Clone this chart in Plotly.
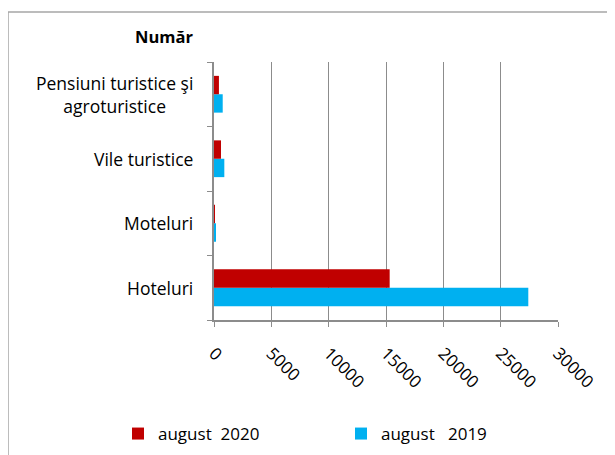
import plotly.graph_objects as go

categories = ["Hoteluri", "Moteluri", "Vile turistice", "Pensiuni turistice şi<br>agroturistice"]
values_2020 = [15320, 5, 610, 430]
values_2019 = [27410, 100, 900, 760]
series_names = ["august\u00a0\u00a02020", "august\u00a0\u00a0\u00a02019"]
x_ticks = [0, 5000, 10000, 15000, 20000, 25000, 30000]

FONT = "Open Sans"
O = 8  # page offset of the figure (body margin)
W, H = 615 - O, 455 - O
# plot area in page pixels
PX0, PX1, PY0, PY1 = 214, 558, 62, 320
L, R, T, B = PX0 - O, W - (PX1 - O), PY0 - O, H - (PY1 - O)
pw, ph = PX1 - PX0, PY1 - PY0


def px(xp):
    return (xp - PX0) / pw


def py(yp):
    return (PY1 - yp) / ph


fig = go.Figure()
fig.add_trace(go.Bar(y=categories, x=values_2019, orientation="h", name=series_names[1],
                     marker=dict(color="#00B0F0", line=dict(width=0))))
fig.add_trace(go.Bar(y=categories, x=values_2020, orientation="h", name=series_names[0],
                     marker=dict(color="#C00000", line=dict(width=0))))

for c in categories:
    fig.add_annotation(x=px(195), xref="paper", y=c, yref="y", text=c,
                       xanchor="right", yanchor="middle", align="center", showarrow=False,
                       font=dict(family=FONT, size=17.5, color="#000"))

fig.add_annotation(x=px(195), xref="paper", y=py(36), yref="paper",
                   text="<b>Număr</b>", xanchor="right", yanchor="middle", showarrow=False,
                   font=dict(family=FONT, size=16.5, color="#000"))

fig.add_shape(type="rect", xref="paper", yref="paper",
              x0=px(8), x1=px(630), y0=py(470), y1=py(12),
              line=dict(color="#A6A6A6", width=1.5), fillcolor="rgba(0,0,0,0)", layer="below")

fig.update_layout(
    width=W, height=H,
    margin=dict(l=L, r=R, t=T, b=B, pad=0, autoexpand=False),
    paper_bgcolor="white", plot_bgcolor="white",
    barmode="group", bargap=0.43, bargroupgap=0,
    font=dict(family=FONT, size=16, color="#000"),
    showlegend=True,
    legend=dict(orientation="h", traceorder="reversed", x=px(118), y=py(434),
                xanchor="left", yanchor="middle", entrywidth=178, entrywidthmode="pixels",
                font=dict(family=FONT, size=17, color="#000"), bgcolor="rgba(0,0,0,0)"),
)
fig.update_xaxes(range=[0, 30000], tickvals=x_ticks, ticktext=[str(v) for v in x_ticks],
                 tickangle=45, showgrid=True, gridcolor="#8C8C8C", gridwidth=1,
                 showline=True, linecolor="#8C8C8C", linewidth=1.5,
                 ticks="outside", ticklen=5, tickcolor="#8C8C8C", zeroline=False,
                 ticklabelstandoff=10,
                 tickfont=dict(family=FONT, size=17, color="#000"), automargin=False)
fig.update_yaxes(type="category", showticklabels=False, tickson="boundaries",
                 ticks="outside", ticklen=5, tickcolor="#8C8C8C",
                 showline=True, linecolor="#8C8C8C", linewidth=1.5, showgrid=False,
                 range=[-0.5, 3.5], automargin=False)

fig.write_html("out.html")
